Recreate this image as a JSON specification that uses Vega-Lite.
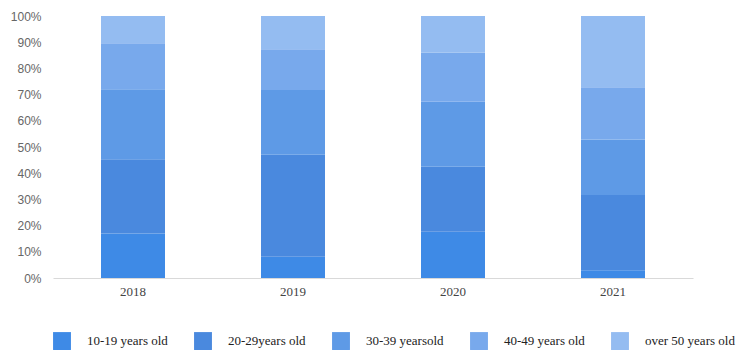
{
  "$schema": "https://vega.github.io/schema/vega-lite/v6.json",
  "width": 640,
  "height": 262,
  "autosize": "none",
  "padding": {"left": 53, "top": 16, "right": 55, "bottom": 72},
  "background": "white",
  "config": {"view": {"stroke": null}},
  "data": {
    "values": [
      {"year": "2018", "group": "10-19 years old", "rank": 1, "share": 17.0},
      {"year": "2018", "group": "20-29years old", "rank": 2, "share": 28.3},
      {"year": "2018", "group": "30-39 yearsold", "rank": 3, "share": 26.7},
      {"year": "2018", "group": "40-49 years old", "rank": 4, "share": 17.6},
      {"year": "2018", "group": "over 50 years old", "rank": 5, "share": 10.4},
      {"year": "2019", "group": "10-19 years old", "rank": 1, "share": 8.1},
      {"year": "2019", "group": "20-29years old", "rank": 2, "share": 38.9},
      {"year": "2019", "group": "30-39 yearsold", "rank": 3, "share": 24.8},
      {"year": "2019", "group": "40-49 years old", "rank": 4, "share": 15.5},
      {"year": "2019", "group": "over 50 years old", "rank": 5, "share": 12.7},
      {"year": "2020", "group": "10-19 years old", "rank": 1, "share": 17.7},
      {"year": "2020", "group": "20-29years old", "rank": 2, "share": 24.8},
      {"year": "2020", "group": "30-39 yearsold", "rank": 3, "share": 24.8},
      {"year": "2020", "group": "40-49 years old", "rank": 4, "share": 18.8},
      {"year": "2020", "group": "over 50 years old", "rank": 5, "share": 13.9},
      {"year": "2021", "group": "10-19 years old", "rank": 1, "share": 3.0},
      {"year": "2021", "group": "20-29years old", "rank": 2, "share": 28.7},
      {"year": "2021", "group": "30-39 yearsold", "rank": 3, "share": 21.2},
      {"year": "2021", "group": "40-49 years old", "rank": 4, "share": 19.9},
      {"year": "2021", "group": "over 50 years old", "rank": 5, "share": 27.2}
    ]
  },
  "mark": {"type": "bar"},
  "encoding": {
    "x": {
      "field": "year",
      "type": "ordinal",
      "scale": {"paddingInner": 0.6, "paddingOuter": 0.3},
      "axis": {
        "title": null,
        "labelAngle": 0,
        "labelFont": "Liberation Serif",
        "labelFontSize": 13,
        "labelColor": "#444444",
        "labelPadding": 7,
        "ticks": false,
        "domainColor": "#d9d9d9",
        "grid": false
      }
    },
    "y": {
      "field": "share",
      "type": "quantitative",
      "stack": "normalize",
      "scale": {"domain": [0, 1]},
      "axis": {
        "title": null,
        "format": ".0%",
        "values": [0, 0.1, 0.2, 0.3, 0.4, 0.5, 0.6, 0.7, 0.8, 0.9, 1],
        "labelFont": "Liberation Sans",
        "labelFontSize": 12,
        "labelColor": "#666666",
        "labelPadding": 12,
        "ticks": false,
        "domain": false,
        "grid": false
      }
    },
    "color": {
      "field": "group",
      "type": "nominal",
      "sort": ["10-19 years old", "20-29years old", "30-39 yearsold", "40-49 years old", "over 50 years old"],
      "scale": {
        "domain": ["10-19 years old", "20-29years old", "30-39 yearsold", "40-49 years old", "over 50 years old"],
        "range": ["#3e8ae6", "#4a89de", "#5e9ae6", "#78a9ec", "#94bcf1"]
      },
      "legend": {
        "title": null,
        "orient": "bottom",
        "direction": "horizontal",
        "offset": 34,
        "symbolType": "square",
        "symbolSize": 320,
        "symbolStrokeWidth": 0,
        "labelFont": "Liberation Serif",
        "labelFontSize": 13,
        "labelColor": "#222222",
        "labelOffset": 16,
        "columnPadding": 26,
        "padding": 0
      }
    },
    "order": {"field": "rank", "type": "quantitative", "sort": "ascending"}
  }
}
